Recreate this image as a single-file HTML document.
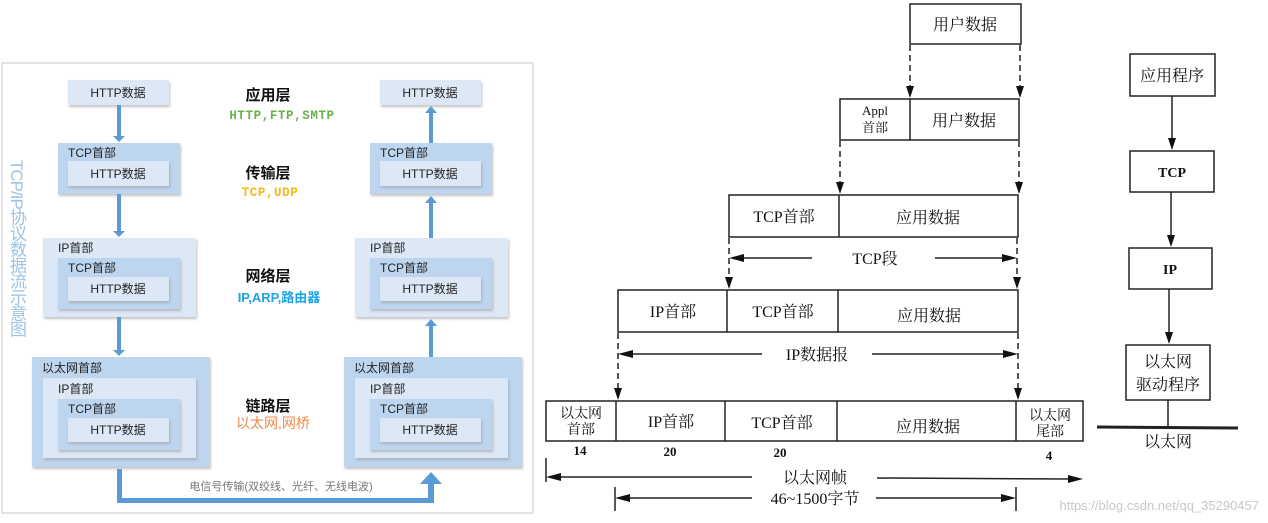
<!DOCTYPE html>
<html><head><meta charset="utf-8"><style>
html,body{margin:0;padding:0;background:#fff;width:1268px;height:523px;overflow:hidden;position:relative}
svg{position:absolute;left:0;top:0}
.vt{position:absolute;left:4px;top:160px;writing-mode:vertical-rl;text-orientation:mixed;font:17px "Liberation Sans","Noto Sans CJK SC",sans-serif;color:#9cc3e6;letter-spacing:-1px}
</style></head><body>
<svg width="1268" height="523" viewBox="0 0 1268 523" font-family="'Liberation Sans','Noto Sans CJK SC',sans-serif">
<defs>
<filter id="sh" x="-5%" y="-5%" width="115%" height="120%"><feDropShadow dx="1" dy="2" stdDeviation="1.2" flood-color="#999" flood-opacity="0.6"/></filter>
</defs>
<rect x="2" y="63" width="531" height="450" fill="#fff" stroke="#e3e3e3" stroke-width="2"/>
<g font-size="12" fill="#222">
<g id="col">
<rect x="68" y="80" width="101" height="25" fill="#dce8f5" filter="url(#sh)"/><text x="118" y="97" text-anchor="middle">HTTP数据</text>
<rect x="58" y="143" width="122" height="51" fill="#bdd5ee" filter="url(#sh)"/><text x="68" y="157">TCP首部</text>
<rect x="68" y="161" width="101" height="25" fill="#dce8f5" filter="url(#sh)"/><text x="118" y="178" text-anchor="middle">HTTP数据</text>
<rect x="43" y="238" width="153" height="79" fill="#dce8f5" filter="url(#sh)"/><text x="58" y="252">IP首部</text>
<rect x="58" y="258" width="122" height="51" fill="#bdd5ee" filter="url(#sh)"/><text x="68" y="272">TCP首部</text>
<rect x="68" y="277" width="101" height="24" fill="#dce8f5" filter="url(#sh)"/><text x="118" y="293" text-anchor="middle">HTTP数据</text>
<rect x="32" y="357" width="178" height="110" fill="#bdd5ee" filter="url(#sh)"/><text x="42" y="372">以太网首部</text>
<rect x="43" y="378" width="153" height="80" fill="#dce8f5" filter="url(#sh)"/><text x="58" y="393">IP首部</text>
<rect x="58" y="399" width="122" height="51" fill="#bdd5ee" filter="url(#sh)"/><text x="68" y="413">TCP首部</text>
<rect x="68" y="418" width="101" height="24" fill="#dce8f5" filter="url(#sh)"/><text x="118" y="434" text-anchor="middle">HTTP数据</text>
</g>
<use href="#col" transform="translate(312,0)"/>
</g>
<g fill="#5b9bd5" stroke="none">
<rect x="117" y="105" width="4" height="32"/><path d="M113,136 L125,136 L119,142 Z"/>
<rect x="117" y="194" width="4" height="38"/><path d="M113,231 L125,231 L119,237 Z"/>
<rect x="117" y="317" width="4" height="34"/><path d="M113,350 L125,350 L119,356 Z"/>
<rect x="429" y="112" width="4" height="31"/><path d="M425,113 L437,113 L431,106 Z"/>
<rect x="429" y="202" width="4" height="36"/><path d="M425,203 L437,203 L431,196 Z"/>
<rect x="429" y="325" width="4" height="32"/><path d="M425,326 L437,326 L431,319 Z"/>
<path d="M117,469 L122,469 L122,498 L428,498 L428,484 L420,484 L431,472 L442,484 L434,484 L434,503 L117,503 Z"/>
</g>
<text x="281" y="490" font-size="11" fill="#777" text-anchor="middle">电信号传输(双绞线、光纤、无线电波)</text>
<g text-anchor="middle" font-weight="bold">
<text x="268" y="100" font-size="15" fill="#111">应用层</text>
<text x="282" y="119" font-size="12.5" fill="#6ab04c" font-family="'Liberation Mono',monospace" letter-spacing="0.6">HTTP,FTP,SMTP</text>
<text x="268" y="178" font-size="15" fill="#111">传输层</text>
<text x="270" y="196" font-size="12.5" fill="#f5b914" font-family="'Liberation Mono',monospace" letter-spacing="0.6">TCP,UDP</text>
<text x="268" y="281" font-size="15" fill="#111">网络层</text>
<text x="279" y="302" font-size="13" fill="#1aa3e8">IP,ARP,路由器</text>
<text x="268" y="411" font-size="15" fill="#111">链路层</text>
<text x="273" y="428" font-size="14" fill="#f08a4b" font-weight="normal">以太网,网桥</text>
</g>
<g fill="none" stroke="#222" stroke-width="1.5">
<rect x="910" y="4" width="111" height="40"/>
<rect x="840" y="99" width="179" height="41"/><line x1="910" y1="99" x2="910" y2="140"/>
<rect x="729" y="195" width="289" height="42"/><line x1="839" y1="195" x2="839" y2="237"/>
<rect x="618" y="290" width="400" height="42"/><line x1="727" y1="290" x2="727" y2="332"/><line x1="838" y1="290" x2="838" y2="332"/>
<rect x="546" y="401" width="537" height="40"/><line x1="616" y1="401" x2="616" y2="441"/><line x1="725" y1="401" x2="725" y2="441"/><line x1="837" y1="401" x2="837" y2="441"/><line x1="1016" y1="401" x2="1016" y2="441"/>
</g>
<g stroke="#222" stroke-width="1.5" stroke-dasharray="6,4">
<line x1="910" y1="45" x2="910" y2="88"/><line x1="1020" y1="45" x2="1020" y2="88"/>
<line x1="840" y1="141" x2="840" y2="184"/><line x1="1019" y1="141" x2="1019" y2="184"/>
<line x1="729" y1="238" x2="729" y2="279"/><line x1="1017" y1="238" x2="1017" y2="279"/>
<line x1="618" y1="333" x2="618" y2="390"/><line x1="1018" y1="333" x2="1018" y2="390"/>
</g>
<g fill="#111">
<path d="M906,86 L914,86 L910,98 Z"/><path d="M1016,86 L1024,86 L1020,98 Z"/>
<path d="M836,182 L844,182 L840,194 Z"/><path d="M1015,182 L1023,182 L1019,194 Z"/>
<path d="M725,277 L733,277 L729,289 Z"/><path d="M1013,277 L1021,277 L1017,289 Z"/>
<path d="M614,388 L622,388 L618,400 Z"/><path d="M1014,388 L1022,388 L1018,400 Z"/>
</g>
<g stroke="#222" stroke-width="1.5" fill="#111">
<line x1="741" y1="258" x2="812" y2="258"/><line x1="935" y1="258" x2="1005" y2="258"/>
<path d="M729,258 L744,254 L744,262 Z" stroke="none"/><path d="M1017,258 L1002,254 L1002,262 Z" stroke="none"/>
<line x1="630" y1="354" x2="762" y2="354"/><line x1="872" y1="354" x2="1006" y2="354"/>
<path d="M618,354 L633,350 L633,358 Z" stroke="none"/><path d="M1018,354 L1003,350 L1003,358 Z" stroke="none"/>
<line x1="546" y1="458" x2="546" y2="482"/>
<line x1="558" y1="477" x2="752" y2="477"/><line x1="877" y1="478" x2="1071" y2="479"/>
<path d="M546,477 L561,473 L561,481 Z" stroke="none"/><path d="M1083,479 L1068,475 L1068,483 Z" stroke="none"/>
<line x1="615" y1="487" x2="615" y2="511"/><line x1="1016" y1="487" x2="1016" y2="511"/>
<line x1="627" y1="498" x2="752" y2="498"/><line x1="876" y1="498" x2="1004" y2="498"/>
<path d="M615,498 L630,494 L630,502 Z" stroke="none"/><path d="M1016,498 L1001,494 L1001,502 Z" stroke="none"/>
</g>
<g font-family="'Liberation Serif','Noto Serif CJK SC',serif" fill="#111" text-anchor="middle" font-size="16">
<text x="965" y="30">用户数据</text>
<text x="875" y="115" font-size="13">Appl</text><text x="875" y="132" font-size="13">首部</text>
<text x="964" y="126">用户数据</text>
<text x="784" y="222">TCP首部</text><text x="928" y="223">应用数据</text>
<text x="875" y="264">TCP段</text>
<text x="673" y="317">IP首部</text><text x="783" y="317">TCP首部</text><text x="929" y="321">应用数据</text>
<text x="817" y="360">IP数据报</text>
<text x="581" y="418" font-size="14">以太网</text><text x="581" y="434" font-size="14">首部</text>
<text x="671" y="427">IP首部</text><text x="782" y="428">TCP首部</text><text x="928" y="432">应用数据</text>
<text x="1050" y="420" font-size="14">以太网</text><text x="1050" y="436" font-size="14">尾部</text>
<g font-weight="bold" font-size="13"><text x="580" y="455">14</text><text x="670" y="456">20</text><text x="780" y="457">20</text><text x="1049" y="460">4</text></g>
<text x="815" y="483">以太网帧</text>
<text x="815" y="504">46~1500字节</text>
</g>
<text x="1259" y="510" font-size="13" fill="#c8c8c8" text-anchor="end">https://blog.csdn.net/qq_35290457</text>
<g fill="none" stroke="#222" stroke-width="1.5">
<rect x="1130" y="54" width="85" height="42"/>
<rect x="1130" y="151" width="84" height="41"/>
<rect x="1129" y="248" width="83" height="41"/>
<rect x="1126" y="345" width="84" height="55"/>
<line x1="1172" y1="96" x2="1172" y2="140"/>
<line x1="1171" y1="192" x2="1171" y2="237"/>
<line x1="1169" y1="289" x2="1169" y2="333"/>
<line x1="1168" y1="400" x2="1168" y2="427"/>
<line x1="1097" y1="427" x2="1238" y2="428" stroke-width="3"/>
</g>
<g fill="#111"><path d="M1168,138 L1176,138 L1172,150 Z"/><path d="M1167,235 L1175,235 L1171,247 Z"/><path d="M1165,332 L1173,332 L1169,344 Z"/></g>
<g font-family="'Liberation Serif','Noto Serif CJK SC',serif" fill="#111" text-anchor="middle" font-size="16">
<text x="1172" y="81">应用程序</text>
<text x="1172" y="177" font-weight="bold" font-size="14">TCP</text>
<text x="1170" y="274" font-weight="bold" font-size="14">IP</text>
<text x="1168" y="367">以太网</text><text x="1168" y="390">驱动程序</text>
<text x="1168" y="447">以太网</text>
</g>
</svg>
<div class="vt">TCP/IP协议数据流示意图</div>
</body></html>
